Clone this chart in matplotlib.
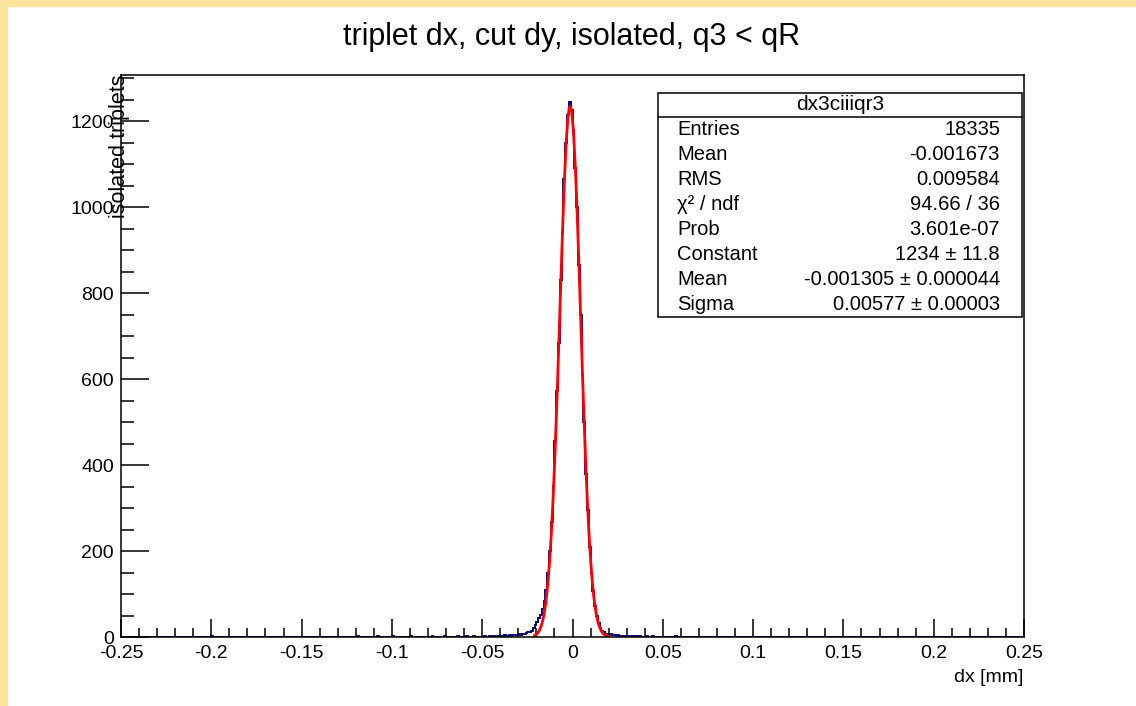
import numpy as np
import matplotlib
matplotlib.use('Agg')
import matplotlib.pyplot as plt
from matplotlib.patches import Rectangle
from matplotlib.ticker import MultipleLocator, FuncFormatter

plt.rcParams['font.family'] = ['Liberation Sans', 'DejaVu Sans']
plt.rcParams['axes.unicode_minus'] = False

# histogram: 500 bins of 0.001 mm over [-0.25, 0.25]
n_bins = 500
x_lo, x_hi = -0.25, 0.25

# counts per bin in the central region, bins starting at -0.050
core_start = -0.050
core_counts = [
    1, 2, 1, 0, 2, 1, 2, 1, 3, 2,                    # -0.050 .. -0.040
    3, 2, 4, 3, 2, 4, 3, 5, 4, 4,                    # -0.040 .. -0.030
    6, 5, 7, 8, 10, 12, 11, 14, 20, 28,              # -0.030 .. -0.020
    36, 45, 52, 66, 84, 110, 150, 200, 268, 352,     # -0.020 .. -0.010
    455, 572, 684, 830, 940, 1065, 1150, 1215, 1245, 1226,  # -0.010 .. 0
    1180, 1090, 1000, 865, 750, 610, 500, 380, 295, 210,    # 0 .. 0.010
    150, 108, 72, 50, 33, 22, 15, 11, 8, 6,          # 0.010 .. 0.020
    5, 6, 4, 5, 3, 4, 3, 2, 3, 2,                    # 0.020 .. 0.030
    2, 1, 3, 2, 1, 2, 1, 2, 1, 1,                    # 0.030 .. 0.040
    1, 2, 0, 1, 2, 1, 0, 1, 1, 0,                    # 0.040 .. 0.050
]

# sparse entries in the far tails (bin centre, count)
tail_x = [-0.2385, -0.2315, -0.2215, -0.2105, -0.1995, -0.1975, -0.1845,
          -0.1625, -0.1415, -0.1265, -0.1185, -0.1165, -0.1125, -0.1075,
          -0.1055, -0.0995, -0.0965, -0.0935, -0.0895, -0.0855, -0.0775,
          -0.0745, -0.0705, -0.0665, -0.0635, -0.0615, -0.0585, -0.0565,
          -0.0545, -0.0515,
          0.0515, 0.0545, 0.0575, 0.0615, 0.0665, 0.0705, 0.0745, 0.0815,
          0.0885, 0.0965, 0.1135, 0.1345, 0.1515, 0.1745, 0.2095]
tail_n = [1, 1, 1, 1, 2, 1, 1,
          1, 1, 1, 2, 1, 1, 2,
          1, 2, 1, 1, 2, 1, 2,
          1, 2, 1, 2, 1, 2, 1,
          2, 1,
          1, 1, 2, 1, 1, 1, 1, 1,
          1, 1, 1, 1, 1, 1, 1]

# gaussian fit result
fit_const = 1234.0
fit_mean = -0.001305
fit_sigma = 0.00577
fit_range = (-0.021, 0.0195)

stats_title = 'dx3ciiiqr3'
stats_names = ['Entries', 'Mean', 'RMS', 'χ² / ndf', 'Prob',
               'Constant', 'Mean', 'Sigma']
stats_values = ['18335', '-0.001673', '0.009584', '94.66 / 36', '3.601e-07',
                '1234 ± 11.8', '-0.001305 ± 0.000044',
                '0.00577 ± 0.00003']

# build the full histogram
edges = np.linspace(x_lo, x_hi, n_bins + 1)
counts = np.zeros(n_bins)
i0 = int(round((core_start - x_lo) / 0.001))
counts[i0:i0 + len(core_counts)] = core_counts
for xc, n in zip(tail_x, tail_n):
    counts[int((xc - x_lo) / 0.001)] += n

W, H = 1136, 706
fig = plt.figure(figsize=(W / 100, H / 100), dpi=100)
fig.patch.set_facecolor('white')

# yellow frame on the left and top
yel = '#fde49b'
fig.patches.append(Rectangle((0, 0), 7 / W, 1, transform=fig.transFigure,
                             color=yel, zorder=0))
fig.patches.append(Rectangle((0, 1 - 6 / H), 1, 6 / H, transform=fig.transFigure,
                             color=yel, zorder=0))

ax_l, ax_r, ax_t, ax_b = 121, 1024, 75, 637
ax = fig.add_axes([ax_l / W, 1 - ax_b / H, (ax_r - ax_l) / W, (ax_b - ax_t) / H])

ax.stairs(counts, edges, color='#0b0b78', linewidth=1.4)

xf = np.linspace(fit_range[0], fit_range[1], 100)
yf = fit_const * np.exp(-0.5 * ((xf - fit_mean) / fit_sigma) ** 2)
ax.plot(xf, yf, color='#ff0000', linewidth=2.0)

ax.set_xlim(x_lo, x_hi)
ax.set_ylim(0, 1.05 * max(counts))

ax.xaxis.set_major_locator(MultipleLocator(0.05))
ax.xaxis.set_minor_locator(MultipleLocator(0.01))
ax.yaxis.set_major_locator(MultipleLocator(200))
ax.yaxis.set_minor_locator(MultipleLocator(50))
ax.xaxis.set_major_formatter(FuncFormatter(lambda v, p: '%g' % round(v, 3)))
ax.yaxis.set_major_formatter(FuncFormatter(lambda v, p: '%g' % v))

ax.tick_params(which='both', direction='in', top=False, right=False,
               labelsize=14, width=1.1, color='black')
ax.tick_params(axis='x', which='major', length=13, pad=6)
ax.tick_params(axis='x', which='minor', length=6.5)
ax.tick_params(axis='y', which='major', length=20, pad=5)
ax.tick_params(axis='y', which='minor', length=9.5)
for s in ax.spines.values():
    s.set_linewidth(1.1)

fig.text(572 / W, 1 - 37 / H, 'triplet dx, cut dy, isolated, q3 < qR',
         ha='center', va='center', fontsize=22)
fig.text(1023 / W, 1 - 677 / H, 'dx [mm]', ha='right', va='center', fontsize=14)
fig.text(120 / W, 1 - 75 / H, 'isolated triplets', rotation=90,
         ha='center', va='top', fontsize=15.5)

# stats box
bx0, bx1, by0, by1, sep = 658, 1022, 93, 317, 117
box = Rectangle((bx0 / W, 1 - by1 / H), (bx1 - bx0) / W, (by1 - by0) / H,
                transform=fig.transFigure, facecolor='white', edgecolor='black',
                linewidth=1.1, zorder=5)
fig.patches.append(box)
fig.lines.append(plt.Line2D([bx0 / W, bx1 / W], [1 - sep / H, 1 - sep / H],
                            transform=fig.transFigure, color='black',
                            linewidth=1.1, zorder=6))
fig.text((bx0 + bx1) / 2 / W, 1 - 105 / H, stats_title, ha='center',
         va='center', fontsize=15, zorder=7)
row_h = (by1 - sep) / len(stats_names)
for k, (nm, vl) in enumerate(zip(stats_names, stats_values)):
    yc = 1 - (sep + row_h * (k + 0.5)) / H
    fig.text(677 / W, yc, nm, ha='left', va='center', fontsize=14.5, zorder=7)
    fig.text(1000 / W, yc, vl, ha='right', va='center', fontsize=14.5, zorder=7)

fig.savefig('out.png', dpi=100)
